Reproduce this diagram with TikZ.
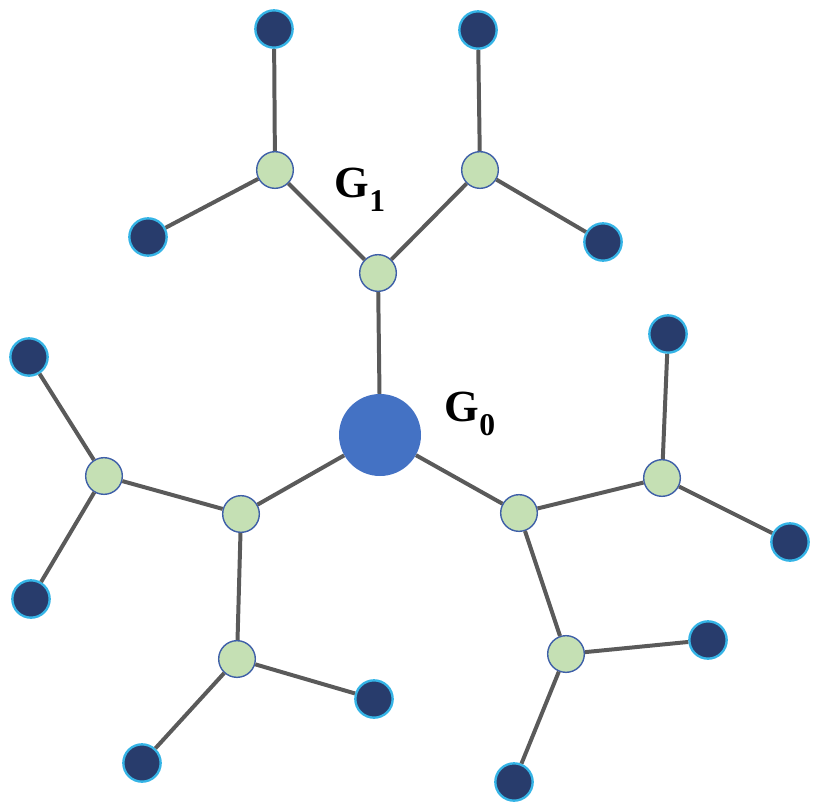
\documentclass[tikz,border=0pt]{standalone}
\usepackage{fontspec}
\setmainfont{Liberation Serif}
\usepackage{tikz}
\usetikzlibrary{positioning}

\definecolor{leaffill}{HTML}{283C6C}
\definecolor{leafrim}{HTML}{35B4E6}
\definecolor{midfill}{HTML}{C5E0B4}
\definecolor{midrim}{HTML}{3E5FA8}
\definecolor{corefill}{HTML}{4472C4}
\definecolor{linkgray}{HTML}{5A5A5A}

\newcommand{\gsub}[1]{\raisebox{-12pt}{\fontsize{27}{29}\selectfont #1}}

\tikzset{
    leaf/.style={circle, fill=leaffill, draw=leafrim, line width=2pt,
        inner sep=0pt, minimum size=1.12cm},
    mid/.style={circle, fill=midfill, draw=midrim, line width=1.2pt,
        inner sep=0pt, minimum size=1.1cm},
    core/.style={circle, fill=corefill, inner sep=0pt, minimum size=2.46cm},
    link/.style={draw=linkgray, line width=3.4pt},
    glabel/.style={font=\fontsize{38}{40}\selectfont\bfseries}
}

\begin{document}
\begin{tikzpicture}[x=0.03cm, y=-0.03cm]
                  \useasboundingbox (0,0) rectangle (815,810);
                  % centre and first shell
                  \node[core] (g0) at (380,435) {};
                  \node[mid] (t) at (378,273) {};
                  \node[mid] (l) at (241,514) {};
                  \node[mid] (r) at (519,513) {};
                  % second shell
                  \node[mid] (tl) at (275,170) {};
                  \node[mid] (tr) at (480,170) {};
                  \node[mid] (lu) at (104,476) {};
                  \node[mid] (ld) at (237,659) {};
                  \node[mid] (ru) at (662,478) {};
                  \node[mid] (rd) at (566,654) {};
                  % leaves
                  \node[leaf] (tl1) at (274,29) {};
                  \node[leaf] (tl2) at (148,237) {};
                  \node[leaf] (tr1) at (478,30) {};
                  \node[leaf] (tr2) at (603,242) {};
                  \node[leaf] (lu1) at (29,357) {};
                  \node[leaf] (lu2) at (31,599) {};
                  \node[leaf] (ld1) at (142,763) {};
                  \node[leaf] (ld2) at (374,699) {};
                  \node[leaf] (ru1) at (668,334) {};
                  \node[leaf] (ru2) at (790,542) {};
                  \node[leaf] (rd1) at (708,640) {};
                  \node[leaf] (rd2) at (514,782) {};
                  % links
                  \foreach \a/\b in {g0/t, g0/l, g0/r, t/tl, t/tr, l/lu, l/ld, r/ru, r/rd,
                      tl/tl1, tl/tl2, tr/tr1, tr/tr2, lu/lu1, lu/lu2, ld/ld1, ld/ld2,
                      ru/ru1, ru/ru2, rd/rd1, rd/rd2}
                      \draw[link] (\a) -- (\b);
                  % labels
                  \node[glabel] (lab1) at (360,190) {G\gsub{1}};
                  \node[glabel] (lab0) at (470,414) {G\gsub{0}};
              \end{tikzpicture}
\end{document}
